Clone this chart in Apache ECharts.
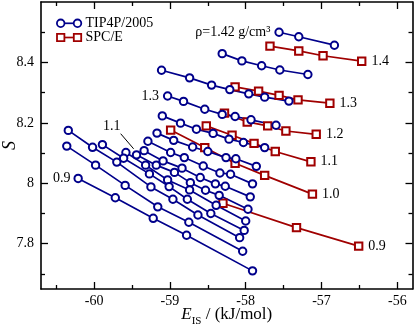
<!DOCTYPE html>
<html><head><meta charset="utf-8">
<script src="https://cdn.jsdelivr.net/npm/echarts@6/dist/echarts.min.js"></script>
<style>html,body{margin:0;padding:0;background:#fff}#c{width:415px;height:329px}</style>
</head><body><div id="c"></div>
<script>
// ---- TIP4P/2005 isochores: E_IS (kJ/mol) and S ----
const tip142_E = [-57.56, -57.30, -56.83];
const tip142_S = [8.500, 8.485, 8.457];
const tipL2_E = [-58.31, -58.05, -57.79, -57.55, -57.18];
const tipL2_S = [8.429, 8.405, 8.389, 8.375, 8.360];
const tipL3_E = [-59.11, -58.74, -58.45, -58.21, -57.96, -57.75, -57.43];
const tipL3_S = [8.374, 8.349, 8.325, 8.310, 8.296, 8.285, 8.272];
const tip130_E = [-59.03, -58.82, -58.54, -58.31, -58.14, -57.93, -57.60];
const tip130_S = [8.289, 8.271, 8.245, 8.228, 8.221, 8.210, 8.192];
const tipL5_E = [-59.10, -58.86, -58.65, -58.43, -58.22, -58.03, -57.75];
const tipL5_S = [8.223, 8.199, 8.179, 8.165, 8.146, 8.135, 8.118];
const tipL6_E = [-59.17, -58.95, -58.70, -58.50, -58.26, -58.13, -57.86];
const tipL6_S = [8.166, 8.142, 8.120, 8.105, 8.085, 8.081, 8.056];
const tipL7_E = [-59.29, -58.99, -58.81, -58.56, -58.34, -58.20, -57.91];
const tipL7_S = [8.139, 8.102, 8.085, 8.057, 8.034, 8.030, 7.998];
const tipL8_E = [-59.34, -59.09, -58.84, -58.60, -58.40, -58.27, -57.94];
const tipL8_S = [8.108, 8.074, 8.050, 8.019, 7.998, 7.990, 7.955];
const tip110_E = [-59.44, -59.18, -58.94, -58.73, -58.53, -58.35, -57.97];
const tip110_S = [8.094, 8.060, 8.036, 8.002, 7.977, 7.960, 7.914];
const tipL10_E = [-59.58, -59.32, -59.03, -58.74, -58.39, -58.00];
const tipL10_S = [8.102, 8.060, 8.011, 7.978, 7.927, 7.875];
const tipL11_E = [-59.89, -59.61, -59.27, -59.01, -58.77, -58.46, -58.02];
const tipL11_S = [8.128, 8.083, 8.031, 7.989, 7.947, 7.900, 7.844];
const tipL12_E = [-60.34, -60.02, -59.70, -59.25, -58.96, -58.63, -58.08];
const tipL12_S = [8.175, 8.119, 8.070, 7.988, 7.947, 7.895, 7.820];
const tipL13_E = [-60.36, -59.98, -59.59, -59.16, -58.75, -58.04];
const tipL13_S = [8.123, 8.060, 7.993, 7.922, 7.871, 7.775];
const tip090_E = [-60.21, -59.72, -59.22, -58.78, -57.91];
const tip090_S = [8.016, 7.952, 7.884, 7.828, 7.710];

// ---- SPC/E isochores ----
const spc140_E = [-57.68, -57.30, -56.98, -56.47];
const spc140_S = [8.454, 8.438, 8.422, 8.404];
const spc130_E = [-58.14, -57.83, -57.56, -57.31, -56.89];
const spc130_S = [8.319, 8.305, 8.291, 8.276, 8.265];
const spc120_E = [-58.28, -57.98, -57.71, -57.47, -57.07];
const spc120_S = [8.232, 8.203, 8.190, 8.173, 8.162];
const spc110_E = [-58.52, -58.18, -57.89, -57.61, -57.14];
const spc110_S = [8.190, 8.159, 8.132, 8.105, 8.071];
const spc100_E = [-58.99, -58.54, -58.14, -57.75, -57.12];
const spc100_S = [8.176, 8.118, 8.066, 8.026, 7.964];
const spc090_E = [-58.30, -57.33, -56.51];
const spc090_S = [7.934, 7.853, 7.792];
const spcLabels = ['1.4', '1.3', '1.2', '1.1', '1.0', '0.9'];

// ---- ticks ----
const xMajor = [-60, -59, -58, -57, -56];
const xMinor = [-60.5, -59.5, -58.5, -57.5, -56.5];
const yMajor = [7.8, 8.0, 8.2, 8.4];
const yMinor = [7.7, 7.9, 8.1, 8.3, 8.5];

// ---- annotations (data coordinates) ----
const label11Pos = [-59.767, 8.190];
const leader11 = [[-59.649, 8.164], [-59.478, 8.114]];

const FONT = 'Liberation Serif';
const BLUE = '#00008b';
const RED = '#a00000';

const tipLines = [
  [tip142_E, tip142_S], [tipL2_E, tipL2_S], [tipL3_E, tipL3_S], [tip130_E, tip130_S],
  [tipL5_E, tipL5_S], [tipL6_E, tipL6_S], [tipL7_E, tipL7_S], [tipL8_E, tipL8_S],
  [tip110_E, tip110_S], [tipL10_E, tipL10_S], [tipL11_E, tipL11_S], [tipL12_E, tipL12_S],
  [tipL13_E, tipL13_S], [tip090_E, tip090_S]
];
const spcLines = [
  [spc140_E, spc140_S], [spc130_E, spc130_S], [spc120_E, spc120_S],
  [spc110_E, spc110_S], [spc100_E, spc100_S], [spc090_E, spc090_S]
];

const labelStyle = {show: true, color: '#000', fontFamily: FONT, fontSize: 14};

function mkSeries(E, S, color, symbol, name, labels) {
  const data = E.map((e, i) => {
    const item = {value: [e, S[i]]};
    if (labels && labels[i]) item.label = Object.assign({}, labelStyle, labels[i]);
    return item;
  });
  return {
    type: 'line', name, data, symbol, symbolSize: 7.4,
    lineStyle: {color, width: 1.7},
    itemStyle: {color, borderColor: color, borderWidth: 1.8},
    emphasis: {disabled: true}, animation: false, silent: true,
    xAxisIndex: 0, yAxisIndex: 0
  };
}

const series = [];
spcLines.forEach((l, k) => {
  const labs = {};
  labs[l[0].length - 1] = {position: 'right', distance: 5, formatter: spcLabels[k]};
  series.push(mkSeries(l[0], l[1], RED, 'emptyRect', 'SPC/E', labs));
});
tipLines.forEach((l, k) => {
  let labs = null;
  if (l[0] === tip090_E) labs = {0: {position: 'left', distance: 3, formatter: '0.9'}};
  if (l[0] === tip130_E) labs = {0: {position: 'left', distance: 4, formatter: '1.3'}};
  if (l[0] === tip142_E) labs = {0: {position: 'left', distance: 4, formatter: 'ρ=1.42 g/cm³'}};
  series.push(mkSeries(l[0], l[1], BLUE, 'emptyCircle', 'TIP4P/2005', labs));
});

function xAx(pos, vals, len, isMain) {
  return {
    type: 'value', position: pos, min: -60.7, max: -55.8, gridIndex: 0,
    axisLine: {show: isMain, onZero: false, lineStyle: {color: '#000', width: 1.6}},
    axisTick: {show: true, inside: true, length: len, customValues: vals, lineStyle: {color: '#000', width: 1.3}},
    axisLabel: {show: isMain && pos === 'bottom', customValues: vals, margin: 5, color: '#000', fontFamily: FONT, fontSize: 14},
    splitLine: {show: false}
  };
}
function yAx(pos, vals, len, isMain) {
  return {
    type: 'value', position: pos, min: 7.65, max: 8.6, gridIndex: 0,
    axisLine: {show: isMain, onZero: false, lineStyle: {color: '#000', width: 1.6}},
    axisTick: {show: true, inside: true, length: len, customValues: vals, lineStyle: {color: '#000', width: 1.3}},
    axisLabel: {show: isMain && pos === 'left', customValues: vals, margin: 7, color: '#000', fontFamily: FONT, fontSize: 14},
    splitLine: {show: false}
  };
}

const xAxes = [xAx('bottom', xMajor, 7, true), xAx('bottom', xMinor, 4, false), xAx('top', xMajor, 7, true), xAx('top', xMinor, 4, false)];
xAxes[0].name = '{e|E}{s|IS}{n| / (kJ/mol)}';
xAxes[0].nameLocation = 'middle';
xAxes[0].nameGap = 14;
xAxes[0].nameMoveOverlap = false;
xAxes[0].nameTextStyle = {
  color: '#000',
  rich: {
    e: {fontFamily: FONT, fontStyle: 'italic', fontSize: 17, lineHeight: 24, color: '#000'},
    s: {fontFamily: FONT, fontSize: 11, lineHeight: 8, verticalAlign: 'bottom', color: '#000'},
    n: {fontFamily: FONT, fontSize: 17, lineHeight: 24, color: '#000'}
  }
};
const yAxes = [yAx('left', yMajor, 7, true), yAx('left', yMinor, 4, false), yAx('right', yMajor, 7, true), yAx('right', yMinor, 4, false)];
yAxes[0].name = 'S';
yAxes[0].nameLocation = 'middle';
yAxes[0].nameGap = 22;
yAxes[0].nameMoveOverlap = false;
yAxes[0].nameTextStyle = {color: '#000', fontFamily: FONT, fontStyle: 'italic', fontSize: 18};

const chart = echarts.init(document.getElementById('c'));
chart.setOption({
  animation: false,
  backgroundColor: '#fff',
  grid: {left: 41, right: 2.5, top: 2, bottom: 40, containLabel: false, outerBoundsMode: 'none'},
  xAxis: xAxes,
  yAxis: yAxes,
  series
});

// legend + annotation graphics
const p0 = chart.convertToPixel({gridIndex: 0}, leader11[0]);
const p1 = chart.convertToPixel({gridIndex: 0}, leader11[1]);
const pl = chart.convertToPixel({gridIndex: 0}, label11Pos);
const g = [];
function legendRow(y, color, shape, text) {
  g.push({type: 'line', shape: {x1: 60.7, y1: y, x2: 77.5, y2: y}, style: {stroke: color, lineWidth: 1.7}, silent: true});
  [60.7, 77.5].forEach(cx => {
    if (shape === 'circle') g.push({type: 'circle', shape: {cx, cy: y, r: 3.8}, style: {fill: '#fff', stroke: color, lineWidth: 1.8}, silent: true});
    else g.push({type: 'rect', shape: {x: cx - 3.7, y: y - 3.7, width: 7.4, height: 7.4}, style: {fill: '#fff', stroke: color, lineWidth: 1.8}, silent: true});
  });
  g.push({type: 'text', x: 85.5, y, style: {text, fill: '#000', font: '14px "' + FONT + '"', textVerticalAlign: 'middle'}, silent: true});
}
legendRow(23.3, BLUE, 'circle', 'TIP4P/2005');
legendRow(37.5, RED, 'rect', 'SPC/E');
g.push({type: 'line', shape: {x1: p0[0], y1: p0[1], x2: p1[0], y2: p1[1]}, style: {stroke: '#000', lineWidth: 1}, silent: true});
g.push({type: 'text', x: pl[0], y: pl[1], style: {text: '1.1', fill: '#000', font: '14px "' + FONT + '"', textAlign: 'center', textVerticalAlign: 'middle'}, silent: true});
chart.setOption({graphic: g});
</script>
</body></html>
